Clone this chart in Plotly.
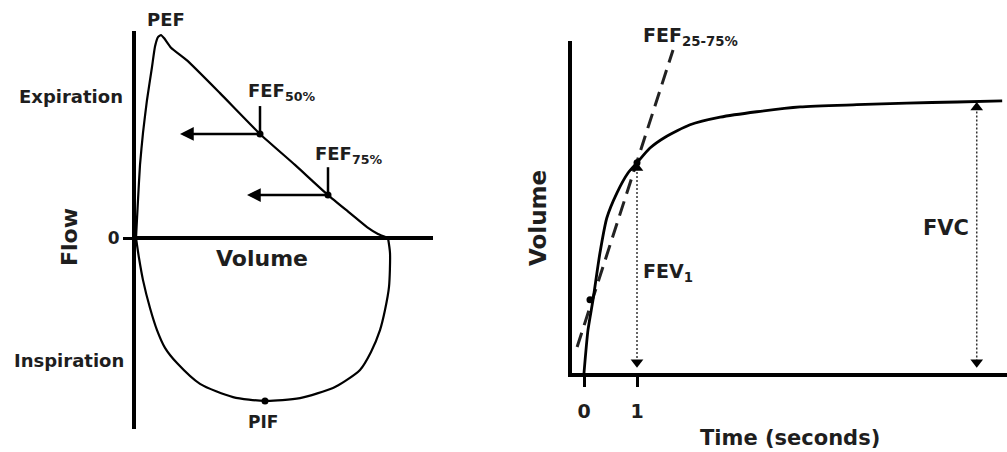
import plotly.graph_objects as go

W, H = 1007, 452

# ---------------- Flow-volume loop (left panel) ----------------
# volume in litres, flow in L/s
exp_volume = [0.00, 0.04, 0.08, 0.14, 0.22, 0.32, 0.38, 0.44, 0.50, 0.56, 0.70, 1.02,
              1.68, 2.48, 3.18, 3.84, 4.28, 4.62, 4.84, 5.04]
exp_flow = [0.00, 1.50, 2.88, 4.14, 5.44, 6.74, 7.55, 7.92, 8.00, 7.88, 7.50, 7.00,
            5.71, 4.10, 2.88, 1.69, 0.98, 0.43, 0.16, 0.00]
insp_volume = [5.04, 5.08, 5.06, 4.98, 4.88, 4.70, 4.48, 4.18, 3.94, 3.28, 2.58, 1.94,
               1.28, 0.82, 0.58, 0.42, 0.28, 0.14, 0.06, 0.00]
insp_flow = [0.00, -0.59, -1.93, -2.84, -3.63, -4.49, -5.20, -5.64, -5.91, -6.31, -6.42,
             -6.27, -5.75, -4.93, -4.33, -3.63, -2.76, -1.66, -0.79, 0.00]

fef_labels = ["FEF50%", "FEF75%"]
fef_volume = [2.48, 3.84]
fef_flow = [4.10, 1.69]
fef_arrow_volume = [0.88, 2.22]      # where the horizontal arrows point to
pif_volume, pif_flow = 2.58, -6.42

# ---------------- Volume-time curve (right panel) ----------------
time_s = [0.0, 0.075, 0.17, 0.30, 0.43, 0.62, 0.83, 1.0, 1.245, 1.53, 2.0, 2.57,
          3.26, 4.08, 5.15, 6.09, 7.04, 7.89]
volume_l = [0.0, 0.79, 1.35, 2.21, 2.86, 3.32, 3.69, 3.88, 4.15, 4.35, 4.58, 4.72,
            4.82, 4.91, 4.95, 4.98, 5.00, 5.02]

fef2575_time = [-0.13, 1.68]
fef2575_volume = [0.48, 5.96]
fef2575_pts_time = [0.113, 1.0]
fef2575_pts_volume = [1.35, 3.88]

fev1_time, fev1_volume = 1.0, 3.88
fvc_time, fvc_volume = 7.41, 5.00

x_ticks = [0, 1]
x_ticktext = ["0", "1"]

# ---------------- styles ----------------
FONT = "DejaVu Sans"
TXT = "#1e1e1e"
TRI_OFF = 0.10      # marker offset (L) so triangle tips touch the lines
BASE_OFF = 0.20
TICK_LEN = 1.1      # length of the small vertical marks above FEF points (L/s)


def P(xp, yp):
    return xp / W, 1 - yp / H


fig = go.Figure()

# left panel traces
fig.add_trace(go.Scatter(x=exp_volume, y=exp_flow, mode="lines",
                         line=dict(color="black", width=2.2, shape="spline", smoothing=0.5),
                         xaxis="x", yaxis="y", cliponaxis=False, hoverinfo="skip"))
fig.add_trace(go.Scatter(x=insp_volume, y=insp_flow, mode="lines",
                         line=dict(color="black", width=2.2, shape="spline", smoothing=0.7),
                         xaxis="x", yaxis="y", cliponaxis=False, hoverinfo="skip"))
for v, f in zip(fef_volume, fef_flow):
    fig.add_trace(go.Scatter(x=[v, v], y=[f, f + TICK_LEN], mode="lines",
                             line=dict(color="black", width=2.5),
                             xaxis="x", yaxis="y", cliponaxis=False, hoverinfo="skip"))
fig.add_trace(go.Scatter(x=fef_volume + [pif_volume], y=fef_flow + [pif_flow], mode="markers",
                         marker=dict(color="black", size=7),
                         xaxis="x", yaxis="y", cliponaxis=False, hoverinfo="skip"))

# right panel traces
fig.add_trace(go.Scatter(x=fef2575_time, y=fef2575_volume, mode="lines",
                         line=dict(color="#222", width=3, dash="15px,8px"),
                         xaxis="x2", yaxis="y2", cliponaxis=False, hoverinfo="skip"))
fig.add_trace(go.Scatter(x=time_s, y=volume_l, mode="lines",
                         line=dict(color="black", width=2.8, shape="spline", smoothing=0.6),
                         xaxis="x2", yaxis="y2", cliponaxis=False, hoverinfo="skip"))
for t, v in [(fev1_time, fev1_volume), (fvc_time, fvc_volume)]:
    fig.add_trace(go.Scatter(x=[t, t], y=[v - TRI_OFF, BASE_OFF], mode="lines",
                             line=dict(color="#333", width=1.5, dash="2px,2px"),
                             xaxis="x2", yaxis="y2", cliponaxis=False, hoverinfo="skip"))
    fig.add_trace(go.Scatter(x=[t], y=[v - TRI_OFF], mode="markers",
                             marker=dict(symbol="triangle-up", color="black", size=11),
                             xaxis="x2", yaxis="y2", cliponaxis=False, hoverinfo="skip"))
    fig.add_trace(go.Scatter(x=[t], y=[BASE_OFF], mode="markers",
                             marker=dict(symbol="triangle-down", color="black", size=11),
                             xaxis="x2", yaxis="y2", cliponaxis=False, hoverinfo="skip"))
fig.add_trace(go.Scatter(x=fef2575_pts_time, y=fef2575_pts_volume, mode="markers",
                         marker=dict(color="black", size=7),
                         xaxis="x2", yaxis="y2", cliponaxis=False, hoverinfo="skip"))

ann = []


def label(text, xp, yp, size, xanchor="center", angle=0, bold=True):
    x, y = P(xp, yp)
    ann.append(dict(text=text, x=x, y=y, xref="paper", yref="paper", showarrow=False,
                    xanchor=xanchor, yanchor="middle", textangle=angle,
                    font=dict(family=FONT, size=size, color=TXT,
                              weight="bold" if bold else "normal")))


# left labels
label("PEF", 166, 20, 18)
label("Expiration", 125, 96, 18, xanchor="right")
label("Inspiration", 126, 360, 18, xanchor="right")
label("Flow", 69, 237, 22, angle=-90)
label("Volume", 262, 258, 22)
label("PIF", 263, 422, 17)
label("FEF<sub>50%</sub>", 246, 92, 18, xanchor="left")
label("FEF<sub>75%</sub>", 313, 155, 18, xanchor="left")

# arrows
for v, f, av in zip(fef_volume, fef_flow, fef_arrow_volume):
    ann.append(dict(x=av, y=f, ax=v, ay=f, xref="x", yref="y", axref="x", ayref="y",
                    text="", showarrow=True, arrowhead=2, arrowsize=1.1, arrowwidth=2.5,
                    arrowcolor="black"))

# right labels
label("FEF<sub>25-75%</sub>", 641, 36, 19, xanchor="left")
label("FEV<sub>1</sub>", 641, 272, 19, xanchor="left")
label("FVC", 971, 228, 21, xanchor="right")
label("Volume", 538, 218, 23, angle=-90)
label("Time (seconds)", 790, 438, 21)

fig.update_layout(
    width=W, height=H, margin=dict(l=0, r=0, t=0, b=0),
    paper_bgcolor="white", plot_bgcolor="rgba(0,0,0,0)", showlegend=False,
    annotations=ann,
    xaxis=dict(domain=[136 / W, 433 / W], range=[0, 5.94], showgrid=False, zeroline=False,
               showline=False, showticklabels=False, ticks="", anchor="y", fixedrange=True),
    yaxis=dict(domain=[1 - 429 / H, 1 - 31 / H], range=[-7.527, 8.158], showgrid=False,
               zeroline=True, zerolinecolor="black", zerolinewidth=4,
               showline=True, linecolor="black", linewidth=4,
               tickvals=[0], ticktext=["0"], ticks="outside", ticklen=9, tickwidth=3,
               tickcolor="black", tickfont=dict(family=FONT, size=17, color=TXT, weight="bold"),
               anchor="x", fixedrange=True),
    xaxis2=dict(domain=[572 / W, 1], range=[-0.2264, 7.981], showgrid=False, zeroline=False,
                showline=True, linecolor="black", linewidth=4,
                tickvals=x_ticks, ticktext=x_ticktext, ticks="outside", ticklen=10,
                tickwidth=3, tickcolor="black", ticklabelstandoff=8,
                tickfont=dict(family=FONT, size=19, color=TXT, weight="bold"),
                anchor="y2", fixedrange=True),
    yaxis2=dict(domain=[1 - 373 / H, 1 - 41 / H], range=[0, 6.125], showgrid=False,
                zeroline=False, showline=True, linecolor="black", linewidth=4,
                showticklabels=False, ticks="", anchor="x2", fixedrange=True),
)

fig.write_html("out.html", config={"displayModeBar": False},
               post_script="document.body.style.margin='0';document.body.style.overflow='hidden';")
